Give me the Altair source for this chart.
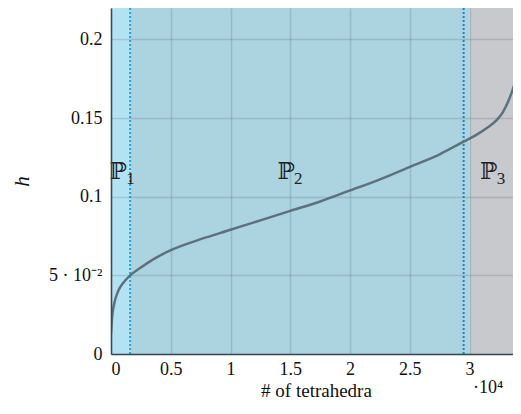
import altair as alt
import pandas as pd

# curve
tet = [0, 100, 300, 600, 1000, 1600, 2500, 3500, 5000, 7500, 10000, 12500, 15000, 17500,
       20000, 22500, 25000, 27500, 29500, 30500, 31500, 32300, 32800, 33200, 33600, 34000, 34300]
h = [0.013, 0.024, 0.033, 0.040, 0.045, 0.050, 0.055, 0.060, 0.066, 0.073, 0.079, 0.085,
     0.091, 0.097, 0.104, 0.111, 0.119, 0.127, 0.135, 0.139, 0.144, 0.149, 0.154, 0.160,
     0.168, 0.178, 0.189]

# regions
reg_start = [0, 1600, 30000]
reg_end = [1600, 30000, 34300]
reg_name = ["P1", "P2", "P3"]
reg_color = ["#b3e3f3", "#acd3e0", "#c8c9cc"]

# dotted separators
sep_x = [1600, 29500]
sep_color = ["#1aa6dc", "#1f86b8"]

# labels
lab_main = ["ℙ", "ℙ", "ℙ"]
lab_sub = ["1", "2", "3"]
lab_x = [600, 14650, 31600]
lab_y = [0.1155, 0.1155, 0.1155]

xdom = [0, 34300]
ydom = [0, 0.22]

curve = pd.DataFrame({"tet": tet, "h": h})
regs = pd.DataFrame({"s": reg_start, "e": reg_end, "name": reg_name})
seps = pd.DataFrame({"x": sep_x, "c": sep_color})
labs = pd.DataFrame({"t": lab_main, "s": lab_sub, "x": lab_x, "y": lab_y})

xs = alt.Scale(domain=xdom, nice=False, zero=False)
ys = alt.Scale(domain=ydom, nice=False)

FONT = "Liberation Serif"

xaxis = alt.Axis(values=[0, 5000, 10000, 15000, 20000, 25000, 30000],
                 labelExpr="datum.value/10000 + ''", title="# of tetrahedra",
                 grid=True, ticks=False, zindex=1, labelFont=FONT, labelFontSize=18,
                 titleFont=FONT, titleFontSize=19, titleFontWeight="normal",
                 labelColor="#111", titleColor="#111", labelPadding=6, titlePadding=3,
                 domainColor="#3a4a52", domainWidth=1.5,
                 gridColor="#4a6270", gridOpacity=0.22, gridWidth=1.5)
yaxis = alt.Axis(values=[0, 0.05, 0.1, 0.15, 0.2],
                 labelExpr="datum.value == 0.05 ? '5 · 10⁻²' : datum.value + ''",
                 title="h", grid=True, ticks=False, zindex=1, labelFont=FONT,
                 labelFontSize=18, titleFont=FONT, titleFontSize=21,
                 titleFontStyle="italic", titleFontWeight="normal",
                 labelColor="#111", titleColor="#111", labelPadding=9, titlePadding=16,
                 domainColor="#3a4a52", domainWidth=1.5,
                 gridColor="#4a6270", gridOpacity=0.22, gridWidth=1.5)

rects = alt.Chart(regs).mark_rect().encode(
    x=alt.X("s:Q", scale=xs, axis=xaxis),
    x2="e:Q",
    y=alt.value(0), y2=alt.value(346),
    color=alt.Color("name:N", scale=alt.Scale(domain=reg_name, range=reg_color), legend=None),
)

rules = alt.Chart(seps).mark_rule(strokeDash=[2, 2], strokeWidth=2).encode(
    x=alt.X("x:Q", scale=xs),
    color=alt.Color("c:N", scale=None),
)

line = alt.Chart(curve).mark_line(color="#5b727e", strokeWidth=2.5, interpolate="monotone",
                                  clip=True).encode(
    x=alt.X("tet:Q", scale=xs),
    y=alt.Y("h:Q", scale=ys, axis=yaxis),
)

text_main = alt.Chart(labs).mark_text(font="DejaVu Serif", fontSize=23, color="#222").encode(
    x=alt.X("x:Q", scale=xs), y=alt.Y("y:Q", scale=ys), text="t:N")
text_sub = alt.Chart(labs).mark_text(font=FONT, fontSize=17, color="#222", align="left",
                                     dx=8, dy=7).encode(
    x=alt.X("x:Q", scale=xs), y=alt.Y("y:Q", scale=ys), text="s:N")

exp = alt.Chart(pd.DataFrame({"t": ["·10⁴"]})).mark_text(
    font=FONT, fontSize=18, color="#111", align="left").encode(
    x=alt.value(362), y=alt.value(380), text="t:N")

chart = alt.layer(rects, rules, line, text_main, text_sub, exp).properties(
    width=410, height=346,
    autosize=alt.AutoSizeParams(type="none"),
    padding={"left": 103, "top": 0, "right": -8, "bottom": 50},
).configure_view(stroke=None).configure(background="white")

chart.save("out.html", embed_options={"renderer": "svg", "actions": False})
